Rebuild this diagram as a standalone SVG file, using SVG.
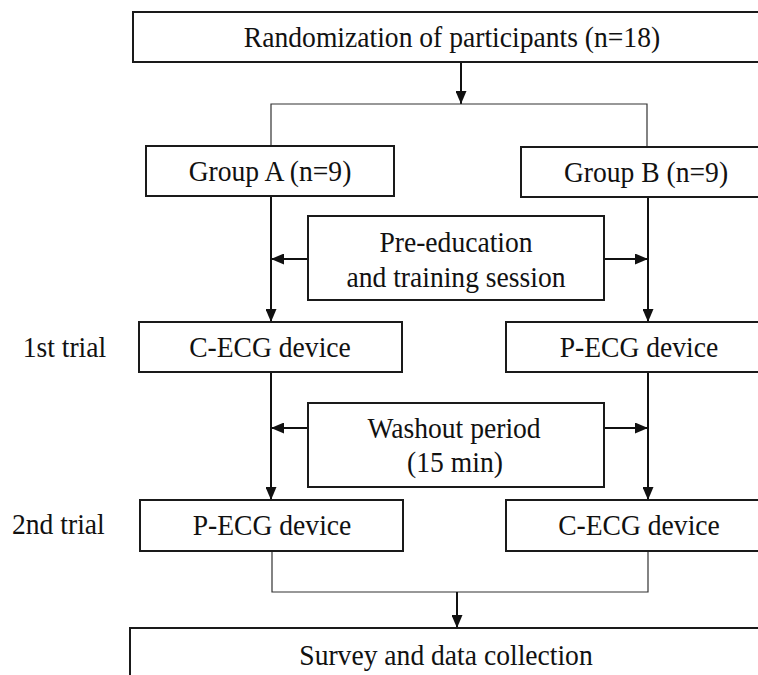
<svg xmlns="http://www.w3.org/2000/svg" width="758" height="675" viewBox="0 0 758 675">
<style>
  .box { fill: #fff; stroke: #1a1a1a; stroke-width: 2; }
  .t, .lbl { font-family: "Liberation Serif", "Times New Roman", serif; font-size: 30px; fill: #111; transform: scaleX(0.92); transform-box: fill-box; transform-origin: center; }
  .t { text-anchor: middle; }
  .thin { fill: none; stroke: #333; stroke-width: 1.2; }
  .arr { fill: none; stroke: #111; stroke-width: 2; marker-end: url(#ah); }
</style>
<defs>
  <marker id="ah" markerUnits="userSpaceOnUse" markerWidth="13" markerHeight="11" refX="13" refY="5.5" orient="auto">
    <path d="M0,0 L13,5.5 L0,11 z" fill="#111"/>
  </marker>
</defs>
<rect width="758" height="675" fill="#fff"/>
<g id="connectors">
  <line class="arr" x1="461" y1="62" x2="461" y2="104"/>
  <polyline class="thin" points="271,146 271,104 647,104 647,147"/>
  <line class="arr" x1="271" y1="196" x2="271" y2="322"/>
  <line class="arr" x1="648" y1="197" x2="648" y2="322"/>
  <line class="arr" x1="308" y1="259" x2="271" y2="259"/>
  <line class="arr" x1="604" y1="259" x2="648" y2="259"/>
  <line class="arr" x1="271" y1="372" x2="271" y2="500"/>
  <line class="arr" x1="648" y1="372" x2="648" y2="500"/>
  <line class="arr" x1="308" y1="428" x2="271" y2="428"/>
  <line class="arr" x1="604" y1="428" x2="648" y2="428"/>
  <polyline class="thin" points="272,551 272,592 648,592 648,551"/>
  <line class="arr" x1="457" y1="592" x2="457" y2="628"/>
</g>
<g id="randomization">
  <rect class="box" x="133" y="12" width="640" height="50"/>
  <text class="t" x="452" y="47">Randomization of participants (n=18)</text>
</g>
<g id="groupA">
  <rect class="box" x="146" y="146" width="248" height="50"/>
  <text class="t" x="270" y="181">Group A (n=9)</text>
</g>
<g id="groupB">
  <rect class="box" x="521" y="147" width="252" height="50"/>
  <text class="t" x="646" y="182">Group B (n=9)</text>
</g>
<g id="preeducation">
  <rect class="box" x="308" y="216" width="296" height="84"/>
  <text class="t" x="456" y="252">Pre-education</text>
  <text class="t" x="456" y="287">and training session</text>
</g>
<g id="trial1">
  <text class="lbl" x="19" y="357">1st trial</text>
</g>
<g id="cecg1">
  <rect class="box" x="139" y="322" width="263" height="50"/>
  <text class="t" x="270" y="357">C-ECG device</text>
</g>
<g id="pecg1">
  <rect class="box" x="506" y="322" width="267" height="50"/>
  <text class="t" x="639" y="357">P-ECG device</text>
</g>
<g id="washout">
  <rect class="box" x="308" y="403" width="296" height="84"/>
  <text class="t" x="454" y="438">Washout period</text>
  <text class="t" x="455" y="472">(15 min)</text>
</g>
<g id="trial2">
  <text class="lbl" x="8" y="534">2nd trial</text>
</g>
<g id="pecg2">
  <rect class="box" x="140" y="500" width="263" height="51"/>
  <text class="t" x="272" y="535">P-ECG device</text>
</g>
<g id="cecg2">
  <rect class="box" x="506" y="500" width="267" height="51"/>
  <text class="t" x="639" y="535">C-ECG device</text>
</g>
<g id="survey">
  <rect class="box" x="130" y="628" width="640" height="60"/>
  <text class="t" x="446" y="665">Survey and data collection</text>
</g>
</svg>
